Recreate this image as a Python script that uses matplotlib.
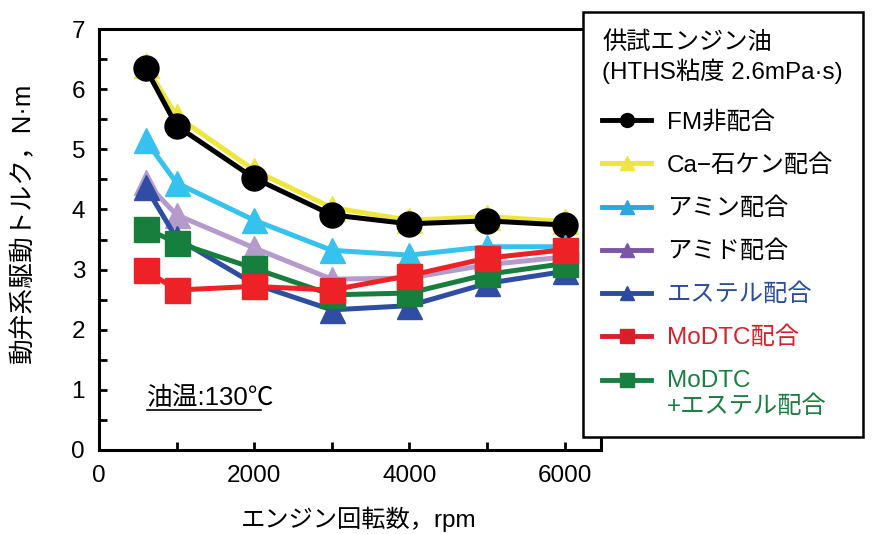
import matplotlib
matplotlib.use('Agg')
import matplotlib.pyplot as plt
from matplotlib.lines import Line2D
from matplotlib.legend_handler import HandlerLine2D
from matplotlib.ticker import MultipleLocator, FixedLocator

plt.rcParams['font.family'] = ['Liberation Sans', 'Noto Sans CJK JP', 'DejaVu Sans']

# ---- data ----
rpm = [600, 1000, 2000, 3000, 4000, 5000, 6000]
fm_free = [6.35, 5.39, 4.52, 3.91, 3.76, 3.81, 3.74]
ca_soap = [6.40, 5.55, 4.65, 4.03, 3.82, 3.88, 3.80]
amine = [5.15, 4.44, 3.82, 3.32, 3.24, 3.38, 3.38]
amide = [4.45, 3.91, 3.36, 2.84, 2.86, 3.08, 3.21]
ester = [4.38, 3.52, 2.76, 2.33, 2.40, 2.77, 2.97]
modtc = [2.99, 2.66, 2.72, 2.66, 2.90, 3.19, 3.33]
modtc_ester = [3.68, 3.45, 3.02, 2.58, 2.61, 2.92, 3.10]

labels = ['FM非配合', 'Ca−石ケン配合', 'アミン配合', 'アミド配合',
          'エステル配合', 'MoDTC配合', 'MoDTC\n+エステル配合']
xticks = [0, 1000, 2000, 3000, 4000, 5000, 6000]
xticklabels = ['0', '', '2000', '', '4000', '', '6000']
yticks = [0, 1, 2, 3, 4, 5, 6, 7]

# ---- styles ----
series = [fm_free, ca_soap, amine, amide, ester, modtc, modtc_ester]
plot_colors = ['#000000', '#EEE63A', '#35C2EF', '#B59BCB', '#2E4DA3', '#EE2127', '#177F3E']
leg_colors = ['#000000', '#EEE63A', '#29A8E0', '#7B55A6', '#2B4AA0', '#D9202A', '#178040']
text_colors = ['#000000', '#000000', '#000000', '#000000', '#2B4BA0', '#D9202A', '#178040']
markers = ['o', '^', '^', '^', '^', 's', 's']
draw_order = [1, 0, 2, 3, 4, 6, 5]

fig = plt.figure(figsize=(8.73, 5.34), dpi=100)
ax = fig.add_axes([99/873, 1-450/534, (601-99)/873, (450-29)/534])

for z, i in enumerate(draw_order):
    ax.plot(rpm, series[i], color=plot_colors[i], marker=markers[i],
            markersize=18, linewidth=3.6, zorder=3+z, clip_on=False)

ax.set_xlim(0, 6470)
ax.set_ylim(0, 7)
ax.xaxis.set_major_locator(FixedLocator(xticks))
ax.set_xticklabels(xticklabels)
ax.set_yticks(yticks)
ax.yaxis.set_minor_locator(MultipleLocator(0.5))
ax.tick_params(axis='both', which='both', direction='in', width=2, length=6,
               labelsize=17.5)
ax.tick_params(axis='x', pad=11)
ax.tick_params(axis='y', pad=10)
for s in ax.spines.values():
    s.set_linewidth(2.2)

ax.set_ylabel('動弁系駆動トルク，N·m', fontsize=18.5)
ax.yaxis.set_label_coords(-0.127, 0.54)
ax.set_xlabel('エンジン回転数，rpm', fontsize=17.5)
ax.xaxis.set_label_coords(0.518, -0.135)

t = ax.text(0.096, 0.107, '油温:130℃', transform=ax.transAxes, fontsize=18.5,
            ha='left', va='baseline')


class RaisedHandler(HandlerLine2D):
    def __init__(self, raise_pts, **kw):
        super().__init__(**kw)
        self.raise_pts = raise_pts

    def create_artists(self, legend, orig_handle, xdescent, ydescent, width,
                       height, fontsize, trans):
        return super().create_artists(legend, orig_handle, xdescent,
                                      ydescent - 2 * self.raise_pts, width,
                                      height, fontsize, trans)


# legend
handles = [Line2D([], [], color=leg_colors[i], marker=markers[i], linewidth=3.5,
                  markersize=10) for i in range(len(labels))]
leg = fig.legend(handles, labels, loc='upper left',
                 bbox_to_anchor=(583/873, 1-12/534), bbox_transform=fig.transFigure,
                 borderaxespad=0,
                 title='供試エンジン油\n(HTHS粘度 2.6mPa·s)',
                 title_fontproperties={'size': 17.5}, alignment='left',
                 fontsize=17.5, frameon=True, fancybox=False, framealpha=1,
                 edgecolor='black', handlelength=2.0, handletextpad=0.65,
                 labelspacing=0.84, borderpad=0.8,
                 handler_map={handles[-1]: RaisedHandler(10)})
leg.get_frame().set_linewidth(1.8)
leg.set_zorder(20)
leg._legend_box.sep = 0.84 * 17.5 + 5
for txt, c in zip(leg.get_texts(), text_colors):
    txt.set_color(c)

# underline annotation text
fig.canvas.draw()
bb = t.get_window_extent(renderer=fig.canvas.get_renderer())
inv = fig.transFigure.inverted()
(x0, y0), (x1, _) = inv.transform([(bb.x0, bb.y0), (bb.x1, bb.y0)])
fig.add_artist(Line2D([x0, x1 - (x1 - x0) * 0.11], [y0, y0], transform=fig.transFigure,
                      color='black', linewidth=1.2))

fig.savefig('out.png', dpi=100)
